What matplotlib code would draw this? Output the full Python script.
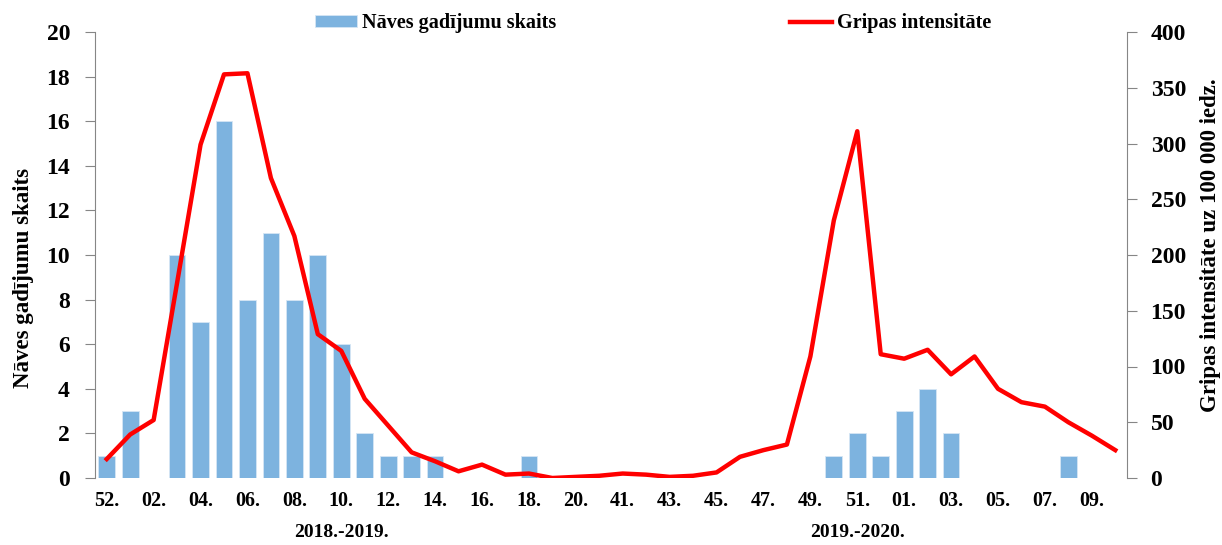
import matplotlib
matplotlib.use("Agg")
import matplotlib.pyplot as plt
import numpy as np

plt.rcParams['font.family'] = ['Liberation Serif', 'DejaVu Serif']
plt.rcParams['font.weight'] = 'bold'
plt.rcParams['axes.labelweight'] = 'bold'

# nedēļas (2018.-2019. un 2019.-2020. sezona)
weeks = ['52', '01', '02', '03', '04', '05', '06', '07', '08', '09', '10',
         '11', '12', '13', '14', '15', '16', '17', '18', '19', '20',
         '40', '41', '42', '43', '44', '45', '46', '47', '48', '49', '50',
         '51', '52', '01', '02', '03', '04', '05', '06', '07', '08', '09', '10']
deaths = [1, 3, 0, 10, 7, 16, 8, 11, 8, 10, 6, 2, 1, 1, 1, 0, 0, 0, 1, 0, 0,
          0, 0, 0, 0, 0, 0, 0, 0, 0, 0, 1, 2, 1,
          3, 4, 2, 0, 0, 0, 0, 1, 0, 0]
flu = [17, 39, 52, 175, 299, 362, 363, 269, 217, 129, 114, 71, 47, 23, 15, 6,
       12, 3, 4, 0, 1,
       2, 4, 3, 1, 2, 5, 19, 25, 30, 109, 231, 311, 111,
       107, 115, 93, 109, 80, 68, 64, 50, 38, 25]
seasons = ['2018.-2019.', '2019.-2020.']
season_centers = [10, 32]

gray = '#868686'
x = np.arange(len(weeks))

fig = plt.figure(figsize=(12.22, 5.45), dpi=100)
ax = fig.add_axes([95/1222, 1-478/545, (1127-95)/1222, 446/545])
ax.bar(x, deaths, width=0.71, color='#7db3df', edgecolor='#d6e6f4', linewidth=0.6,
       label='Nāves gadījumu skaits', zorder=2)
ax.set_xlim(-0.5, len(weeks)-0.5)
ax.set_ylim(0, 20)
ax.set_yticks(range(0, 21, 2))
ax.set_xticks(x)
ax.set_xticklabels([w + '.' if i % 2 == 0 else '' for i, w in enumerate(weeks)], fontsize=14.5)
ax.tick_params(axis='x', length=0, pad=9)
ax.tick_params(axis='y', length=7, color=gray, labelsize=17, pad=11)
ax.set_ylabel('Nāves gadījumu skaits', fontsize=16.5)
ax.yaxis.set_label_coords(-0.059, 0.448)
for s in ['top', 'right', 'bottom']:
    ax.spines[s].set_visible(False)
ax.spines['left'].set_color(gray)

for name, c in zip(seasons, season_centers):
    ax.text(c, -0.123, name, transform=ax.get_xaxis_transform(), ha='center',
            va='center', fontsize=14)

ax2 = ax.twinx()
ax2.plot(x, flu, color='#ff0000', lw=3.2, label='Gripas intensitāte', zorder=3)
ax2.set_ylim(0, 400)
ax2.set_yticks(range(0, 401, 50))
ax2.tick_params(axis='y', length=7, color=gray, labelsize=17, pad=10)
ax2.set_ylabel('Gripas intensitāte uz 100 000 iedz.', fontsize=16.5)
ax2.yaxis.set_label_coords(1.0705, 0.522)
for s in ['top', 'left', 'bottom']:
    ax2.spines[s].set_visible(False)
ax2.spines['right'].set_color(gray)

h1, l1 = ax.get_legend_handles_labels()
h2, l2 = ax2.get_legend_handles_labels()
leg_kw = dict(loc='upper left', frameon=False, fontsize=14.5, borderpad=0,
              borderaxespad=0, handlelength=2.1, handleheight=0.5, handletextpad=0.25)
fig.legend(h1, l1, bbox_to_anchor=(315/1222, 1-13/545), **leg_kw)
fig.legend(h2, l2, bbox_to_anchor=(790/1222, 1-13/545), **leg_kw)

fig.savefig('out.png', dpi=100)
